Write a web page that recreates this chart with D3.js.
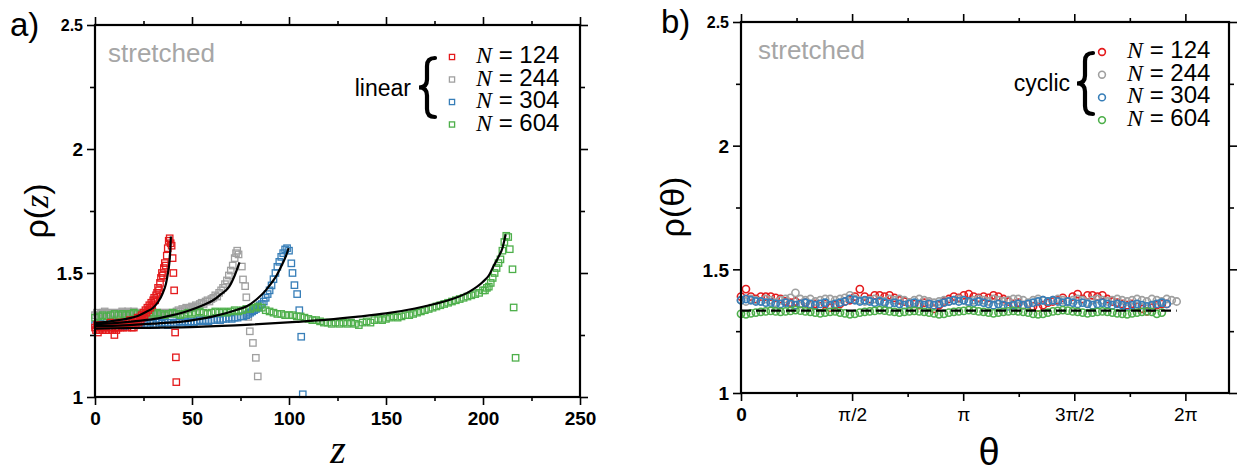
<!DOCTYPE html>
<html>
<head>
<meta charset="utf-8">
<script src="https://cdn.jsdelivr.net/npm/d3@7"></script>
<style>
body{margin:0;background:#fff;}
</style>
</head>
<body>
<div id="chart"></div>
<script>
// ---- panel a) data : [z, rho] ----
let sizes = ["124","244","304","604"];

let linear124 = [[0,1.28],[0.5,1.27],[1,1.29],[1.5,1.26],[2,1.28],[2.5,1.27],[3,1.29],[3.5,1.28],[4,1.27],[4.5,1.29],[5,1.28],[5.5,1.27],[6,1.28],[6.5,1.29],[7,1.27],[7.5,1.28],[8,1.30],[8.5,1.28],[9,1.27],[9.5,1.29],[10,1.25],[10.5,1.28],[11,1.27],[11.5,1.29],[12,1.28],[12.5,1.30],[13,1.28],[13.5,1.29],[14,1.30],[14.5,1.28],[15,1.29],[15.5,1.30],[16,1.29],[16.5,1.28],[17,1.30],[17.5,1.29],[18,1.31],[18.5,1.29],[19,1.28],[19.5,1.30],[20,1.28],[20.5,1.31],[21,1.29],[21.5,1.31],[22,1.32],[22.5,1.30],[23,1.32],[23.5,1.31],[24,1.33],[24.5,1.32],[25,1.34],[25.5,1.33],[26,1.35],[26.5,1.34],[27,1.36],[27.5,1.35],[28,1.37],[28.5,1.36],[29,1.38],[29.5,1.37],[30,1.39],[30.5,1.40],[31,1.39],[31.5,1.41],[32,1.42],[32.5,1.44],[33,1.43],[33.5,1.46],[34,1.48],[34.5,1.50],[35,1.49],[35.5,1.52],[36,1.54],[36.5,1.53],[37,1.57],[37.5,1.60],[38,1.63],[38.5,1.64],[39,1.62],[39.5,1.61],[40,1.56],[40.4,1.50],[40.8,1.43],[41.3,1.26],[41.7,1.16],[41.9,1.06]];

let linear244 = [[0,1.33],[1,1.34],[2,1.33],[3,1.335],[4,1.34],[5,1.345],[6,1.335],[7,1.34],[8,1.33],[9,1.34],[10,1.335],[11,1.34],[12,1.33],[13,1.34],[14,1.345],[15,1.335],[16,1.34],[17,1.345],[18,1.335],[19,1.34],[20,1.345],[21,1.34],[22,1.33],[23,1.34],[24,1.335],[25,1.34],[26,1.335],[27,1.34],[28,1.33],[29,1.335],[30,1.34],[31,1.335],[32,1.33],[33,1.34],[34,1.335],[35,1.34],[36,1.33],[37,1.34],[38,1.335],[39,1.34],[40,1.335],[41,1.34],[42,1.345],[43,1.35],[44,1.345],[45,1.355],[46,1.35],[47,1.36],[48,1.355],[49,1.36],[50,1.365],[51,1.36],[52,1.37],[53,1.365],[54,1.375],[55,1.38],[56,1.375],[57,1.385],[58,1.39],[59,1.385],[60,1.395],[61,1.40],[62,1.41],[63,1.405],[64,1.42],[65,1.43],[66,1.44],[67,1.455],[68,1.47],[69,1.49],[70,1.51],[71,1.53],[72,1.56],[72.7,1.58],[73.3,1.59],[74,1.575],[75.7,1.526],[76.3,1.474],[77.4,1.447],[78,1.402],[79,1.323],[79.8,1.265],[81.4,1.218],[82.9,1.158],[83.9,1.083]];

let linear304 = [[0,1.29],[1.5,1.285],[3,1.295],[4.5,1.29],[6,1.285],[7.5,1.295],[9,1.29],[10.5,1.30],[12,1.29],[13.5,1.295],[15,1.285],[16.5,1.29],[18,1.30],[19.5,1.29],[21,1.295],[22.5,1.29],[24,1.30],[25.5,1.295],[27,1.29],[28.5,1.30],[30,1.295],[31.5,1.29],[33,1.30],[34.5,1.295],[36,1.30],[37.5,1.29],[39,1.30],[40.5,1.295],[42,1.30],[43.5,1.305],[45,1.30],[46.5,1.305],[48,1.30],[49.5,1.305],[51,1.30],[52.5,1.305],[54,1.31],[55.5,1.305],[57,1.31],[58.5,1.305],[60,1.31],[61.5,1.31],[63,1.315],[64.5,1.31],[66,1.315],[67.5,1.315],[69,1.32],[70.5,1.315],[72,1.32],[73.5,1.32],[75,1.325],[76.5,1.325],[78,1.33],[79,1.335],[80,1.34],[81,1.345],[82,1.35],[83,1.355],[84,1.36],[85,1.37],[86,1.375],[87,1.385],[88,1.40],[89,1.415],[90,1.43],[91,1.45],[92,1.475],[93,1.50],[94,1.525],[95,1.545],[96,1.565],[97,1.58],[98,1.595],[99,1.60],[100,1.59],[101.2,1.539],[101.8,1.50],[102.8,1.451],[104.2,1.415],[105.3,1.35],[106.3,1.243],[107.1,1.011]];

let linear604 = [[0,1.32],[2,1.325],[4,1.33],[6,1.325],[8,1.33],[10,1.335],[12,1.33],[14,1.335],[16,1.33],[18,1.335],[20,1.34],[22,1.335],[24,1.33],[26,1.335],[28,1.34],[30,1.335],[32,1.34],[34,1.335],[36,1.33],[38,1.335],[40,1.34],[42,1.335],[44,1.33],[46,1.335],[48,1.34],[50,1.335],[52,1.34],[54,1.345],[56,1.34],[58,1.335],[60,1.34],[62,1.345],[64,1.34],[66,1.345],[68,1.34],[70,1.345],[72,1.35],[74,1.345],[76,1.35],[78,1.355],[80,1.355],[82,1.36],[84,1.365],[86,1.36],[88,1.35],[90,1.345],[92,1.34],[94,1.335],[96,1.335],[98,1.33],[100,1.33],[102,1.33],[104,1.325],[106,1.325],[108,1.32],[110,1.315],[112,1.31],[114,1.31],[116,1.305],[118,1.30],[120,1.30],[122,1.295],[124,1.30],[126,1.295],[128,1.30],[130,1.295],[132,1.30],[134,1.295],[136,1.29],[138,1.30],[140,1.305],[142,1.30],[144,1.31],[146,1.315],[148,1.31],[150,1.315],[152,1.32],[154,1.325],[156,1.32],[158,1.325],[160,1.33],[162,1.33],[164,1.335],[166,1.34],[168,1.345],[170,1.35],[172,1.355],[174,1.36],[176,1.365],[178,1.37],[180,1.375],[182,1.38],[184,1.385],[186,1.39],[188,1.395],[190,1.40],[192,1.405],[194,1.41],[196,1.415],[198,1.42],[200,1.43],[201,1.43],[202,1.44],[203,1.445],[204,1.46],[205,1.48],[206,1.50],[207,1.52],[208,1.54],[209,1.555],[210,1.59],[211,1.625],[212,1.65],[213,1.645],[213.8,1.596],[215.2,1.515],[215.8,1.361],[216.8,1.158]];

// black fit curves
let fit124 = [[0,1.299],[6,1.303],[12.2,1.31],[18,1.318],[22,1.327],[26.5,1.344],[30,1.36],[32.6,1.384],[35,1.42],[36.6,1.458],[37.6,1.50],[38.3,1.539],[38.8,1.59],[39.1,1.647]];
let fit244 = [[0,1.294],[10,1.298],[20,1.305],[32.6,1.317],[40,1.33],[48.9,1.35],[55,1.368],[61.1,1.391],[65,1.415],[69.2,1.445],[72,1.49],[74.5,1.543]];
let fit304 = [[0,1.286],[15,1.289],[32.6,1.297],[43.8,1.303],[52.9,1.313],[61,1.325],[73.3,1.352],[78,1.365],[83.5,1.395],[88,1.43],[91,1.46],[93.6,1.49],[96.5,1.535],[98.5,1.57],[99.8,1.60]];
let fit604 = [[0,1.276],[25,1.279],[52.9,1.283],[80,1.292],[103.8,1.303],[120,1.312],[134.4,1.323],[150,1.337],[164.9,1.357],[175,1.375],[185.3,1.398],[193,1.425],[200,1.465],[203,1.49],[205.6,1.53],[208,1.565],[210,1.60],[211.7,1.656]];

let zTicks = [0,50,100,150,200,250];
let zMinor = [25,75,125,175,225];
let rhoTicks = [1,1.5,2,2.5];
let rhoMinor = [1.25,1.75,2.25];

// ---- panel b) data : rho at theta = i*thetaStep ----
let thetaStep = 0.07;
let cyclic124 = [1.39,1.42,1.39,1.38,1.39,1.39,1.39,1.385,1.38,1.37,
  1.365,1.37,1.36,1.365,1.355,1.36,1.35,1.36,1.345,1.355,
  1.36,1.37,1.375,1.39,1.42,1.39,1.38,1.395,1.395,1.39,
  1.395,1.385,1.375,1.37,1.365,1.36,1.355,1.365,1.36,1.34,
  1.355,1.37,1.38,1.39,1.385,1.395,1.40,1.39,1.385,1.39,
  1.385,1.395,1.39,1.38,1.37,1.36,1.365,1.355,1.36,1.35,
  1.345,1.355,1.365,1.37,1.375,1.385,1.37,1.39,1.40,1.38,
  1.395,1.395,1.39,1.395,1.38,1.37,1.365,1.36,1.355,1.36,
  1.35,1.34,1.33,1.345,1.355,1.36,1.36];
let cyclic244 = [1.375,1.37,1.38,1.375,1.37,1.38,1.375,1.365,1.375,1.38,
  1.385,1.405,1.38,1.375,1.38,1.37,1.375,1.38,1.38,1.375,
  1.38,1.385,1.395,1.38,1.375,1.37,1.375,1.38,1.375,1.37,
  1.38,1.375,1.38,1.375,1.365,1.375,1.38,1.375,1.37,1.365,
  1.37,1.375,1.37,1.375,1.38,1.375,1.365,1.375,1.38,1.375,
  1.37,1.38,1.375,1.37,1.375,1.38,1.38,1.375,1.365,1.375,
  1.38,1.375,1.37,1.375,1.38,1.375,1.37,1.375,1.38,1.375,
  1.365,1.375,1.38,1.375,1.37,1.375,1.38,1.375,1.37,1.375,
  1.38,1.375,1.37,1.38,1.375,1.37,1.38,1.375,1.37];
let cyclic304 = [1.375,1.38,1.375,1.37,1.37,1.365,1.365,1.36,1.36,1.365,
  1.36,1.355,1.36,1.365,1.36,1.355,1.36,1.365,1.355,1.36,
  1.365,1.37,1.38,1.375,1.37,1.375,1.37,1.365,1.37,1.365,
  1.36,1.365,1.36,1.355,1.36,1.365,1.36,1.355,1.36,1.355,
  1.36,1.365,1.37,1.375,1.37,1.375,1.37,1.365,1.37,1.365,
  1.36,1.355,1.36,1.355,1.35,1.355,1.36,1.355,1.36,1.365,
  1.37,1.375,1.37,1.375,1.37,1.365,1.37,1.365,1.36,1.365,
  1.36,1.355,1.36,1.365,1.36,1.355,1.36,1.355,1.35,1.355,
  1.36,1.355,1.35,1.355,1.36,1.365,1.36];
let cyclic604 = [1.32,1.318,1.322,1.325,1.328,1.33,1.332,1.33,1.328,1.33,
  1.332,1.335,1.333,1.33,1.328,1.325,1.322,1.325,1.328,1.33,
  1.325,1.322,1.318,1.32,1.325,1.328,1.33,1.332,1.335,1.333,
  1.33,1.328,1.325,1.328,1.33,1.332,1.33,1.328,1.325,1.322,
  1.318,1.32,1.325,1.328,1.33,1.332,1.335,1.333,1.33,1.328,
  1.325,1.322,1.325,1.328,1.33,1.332,1.33,1.328,1.325,1.32,
  1.318,1.32,1.325,1.33,1.332,1.335,1.333,1.33,1.328,1.325,
  1.322,1.325,1.328,1.33,1.328,1.325,1.322,1.32,1.318,1.322,
  1.325,1.328,1.33,1.328,1.32,1.325];
let bulkRho = 1.333;
let bulkEnd = 6.16;

let thetaTicks = [0, Math.PI/2, Math.PI, 3*Math.PI/2, 2*Math.PI];
let thetaMinor = [Math.PI/4, 3*Math.PI/4, 5*Math.PI/4, 7*Math.PI/4];
let thetaLabels = ["0","\u03c0/2","\u03c0","3\u03c0/2","2\u03c0"];

// ---- drawing ----
let width = 1238, height = 472;
let palette = ["#e41a1c","#a0a0a0","#377eb8","#4daf4a"];
let sans = "Liberation Sans, Arial, sans-serif";
let serif = "Liberation Serif, Times New Roman, serif";

let svg = d3.select("#chart").append("svg")
    .attr("width", width).attr("height", height);
svg.append("rect").attr("width", width).attr("height", height).attr("fill", "white");

function frame(g, x, y, xMajor, xMinor, xFormat, xBold){
    let x0 = x.range()[0], x1 = x.range()[1], y0 = y.range()[0], y1 = y.range()[1];
    let axes = [
        {ax: d3.axisBottom(x).tickValues(xMajor).tickSize(8).tickFormat(xFormat), t: "translate(0,"+y0+")"},
        {ax: d3.axisBottom(x).tickValues(xMinor).tickSize(4).tickFormat(""), t: "translate(0,"+y0+")"},
        {ax: d3.axisTop(x).tickValues(xMajor).tickSize(8).tickFormat(""), t: "translate(0,"+y1+")"},
        {ax: d3.axisTop(x).tickValues(xMinor).tickSize(4).tickFormat(""), t: "translate(0,"+y1+")"},
        {ax: d3.axisLeft(y).tickValues(rhoTicks).tickSize(8).tickFormat(d3.format("")), t: "translate("+x0+",0)"},
        {ax: d3.axisLeft(y).tickValues(rhoMinor).tickSize(5).tickFormat(""), t: "translate("+x0+",0)"},
        {ax: d3.axisRight(y).tickValues(rhoTicks).tickSize(8).tickFormat(""), t: "translate("+x1+",0)"},
        {ax: d3.axisRight(y).tickValues(rhoMinor).tickSize(5).tickFormat(""), t: "translate("+x1+",0)"}
    ];
    axes.forEach(function(a, k){
        let ag = g.append("g").attr("transform", a.t).call(a.ax.tickSizeOuter(0).tickPadding(4));
        ag.select(".domain").remove();
        ag.selectAll(".tick line").attr("stroke", "black").attr("stroke-width", 1.6);
        ag.selectAll(".tick text").attr("fill", "black")
            .style("font-family", sans).style("font-weight", "bold").style("font-size", "19px");
        if(k == 0){
            ag.selectAll(".tick text").attr("dy", "0.85em");
            if(!xBold){
                ag.selectAll(".tick text").style("font-weight", function(d,i){ return i == 0 ? "bold" : "normal"; });
            }
        }
        if(k == 4){
            ag.selectAll(".tick text")
                .style("font-size", function(d){ return d == 2.5 ? "16px" : "19px"; })
                .attr("dy", "0.36em");
        }
    });
    g.append("rect")
        .attr("x", x0).attr("y", y1)
        .attr("width", x1-x0).attr("height", y0-y1)
        .attr("fill", "none").attr("stroke", "black").attr("stroke-width", 2.2);
}

function brace(g, bx, top, bottom, w){
    let mid = (top+bottom)/2, xm = bx + w/2;
    let p = d3.path();
    p.moveTo(bx+w, top);
    p.quadraticCurveTo(xm, top, xm, top+w/2);
    p.lineTo(xm, mid-w/2);
    p.quadraticCurveTo(xm, mid, bx, mid);
    p.quadraticCurveTo(xm, mid, xm, mid+w/2);
    p.lineTo(xm, bottom-w/2);
    p.quadraticCurveTo(xm, bottom, bx+w, bottom);
    g.append("path").attr("d", p.toString())
        .attr("fill", "none").attr("stroke", "black")
        .attr("stroke-width", 4.2).attr("stroke-linecap", "round");
}

function legend(g, word, wordX, wordY, bx, top, bottom, markX, textX, rowY, shape){
    g.append("text").attr("x", wordX).attr("y", wordY)
        .attr("text-anchor", "end").style("font-family", sans).style("font-size", "23px")
        .text(word);
    brace(g, bx, top, bottom, 16);
    sizes.forEach(function(s, i){
        let yy = rowY[0] + i*rowY[1];
        if(shape == "square"){
            g.append("rect").attr("x", markX-2.6).attr("y", yy-8.6).attr("width", 5.2).attr("height", 5.2)
                .attr("fill", "none").attr("stroke", palette[i]).attr("stroke-width", 1.3);
        } else {
            g.append("circle").attr("cx", markX).attr("cy", yy-6).attr("r", 3.4)
                .attr("fill", "none").attr("stroke", palette[i]).attr("stroke-width", 1.6);
        }
        let t = g.append("text").attr("x", textX).attr("y", yy).style("font-size", "24px");
        t.append("tspan").style("font-family", serif).style("font-style", "italic").text("N");
        t.append("tspan").style("font-family", sans).text(" = " + s);
    });
}

// ===== panel a =====
let gA = svg.append("g");
let xA = d3.scaleLinear().domain([0,250]).range([95,580]);
let yA = d3.scaleLinear().domain([1,2.5]).range([397,25]);

let linearSets = [linear244, linear304, linear604, linear124];
let linearColor = [1,2,3,0];
linearSets.forEach(function(set, k){
    gA.append("g").selectAll("rect")
        .data(set).enter().append("rect")
            .attr("x", function(d){ return xA(d[0])-3.2; })
            .attr("y", function(d){ return yA(d[1])-3.2; })
            .attr("width", 6.4).attr("height", 6.4)
            .attr("fill", "none")
            .attr("stroke", palette[linearColor[k]])
            .attr("stroke-width", 1.3);
});

let lineA = d3.line().x(function(d){ return xA(d[0]); }).y(function(d){ return yA(d[1]); })
    .curve(d3.curveMonotoneX);
[fit124, fit244, fit304, fit604].forEach(function(f){
    gA.append("path").attr("d", lineA(f))
        .attr("fill", "none").attr("stroke", "black").attr("stroke-width", 2.2);
});

frame(gA, xA, yA, zTicks, zMinor, d3.format(""), true);

gA.append("text").attr("x", 108).attr("y", 62)
    .style("font-family", sans).style("font-size", "26px").attr("fill", "#a6a6a6").text("stretched");
legend(gA, "linear", 411, 96, 419, 58, 117, 452, 476, [63, 22.5], "square");

gA.append("text").attr("x", 10).attr("y", 36)
    .style("font-family", sans).style("font-size", "33px").text("a)");
gA.append("text").attr("x", 338).attr("y", 463).attr("text-anchor", "middle")
    .style("font-family", serif).style("font-style", "italic").style("font-size", "40px").text("z");
let ylA = gA.append("text").attr("transform", "translate(48,211) rotate(-90)")
    .attr("text-anchor", "middle").style("font-size", "34px");
ylA.append("tspan").style("font-family", sans).text("\u03c1(");
ylA.append("tspan").style("font-family", serif).style("font-style", "italic").text("z");
ylA.append("tspan").style("font-family", sans).text(")");

// ===== panel b =====
let gB = svg.append("g");
let xB = d3.scaleLinear().domain([0,6.9]).range([741,1229]);
let yB = d3.scaleLinear().domain([1,2.5]).range([393,22]);

let cyclicSets = [cyclic124, cyclic244, cyclic304, cyclic604];
cyclicSets.forEach(function(set, k){
    gB.append("g").selectAll("circle")
        .data(set).enter().append("circle")
            .attr("cx", function(d,i){ return xB(i*thetaStep); })
            .attr("cy", function(d){ return yB(d); })
            .attr("r", 3.6)
            .attr("fill", "none")
            .attr("stroke", palette[k])
            .attr("stroke-width", 1.6);
});

gB.append("line")
    .attr("x1", xB(0)).attr("x2", xB(bulkEnd))
    .attr("y1", yB(bulkRho)).attr("y2", yB(bulkRho))
    .attr("stroke", "black").attr("stroke-width", 2.2)
    .style("stroke-dasharray", ("10,5"));

frame(gB, xB, yB, thetaTicks, thetaMinor, function(d,i){ return thetaLabels[i]; }, false);

gB.append("text").attr("x", 758).attr("y", 59)
    .style("font-family", sans).style("font-size", "26px").attr("fill", "#a6a6a6").text("stretched");
legend(gB, "cyclic", 1070, 91, 1077, 53, 114, 1102, 1127, [58, 22.7], "circle");

gB.append("text").attr("x", 661).attr("y", 33)
    .style("font-family", sans).style("font-size", "33px").text("b)");
gB.append("text").attr("x", 989).attr("y", 465).attr("text-anchor", "middle")
    .style("font-family", sans).style("font-size", "38px").text("\u03b8");
gB.append("text").attr("transform", "translate(684,207) rotate(-90)")
    .attr("text-anchor", "middle").style("font-family", sans).style("font-size", "34px")
    .text("\u03c1(\u03b8)");
</script>
</body>
</html>
